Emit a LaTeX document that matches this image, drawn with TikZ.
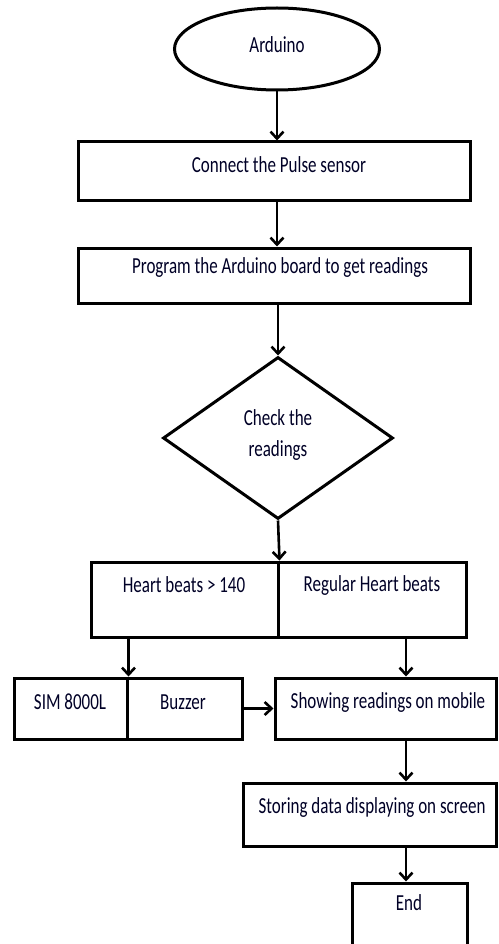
\documentclass[tikz,border=0pt]{standalone}
\usepackage{fontspec}
\setmainfont{Carlito}
\usepackage{graphicx}
\usetikzlibrary{shapes.geometric,arrows.meta}
\newcommand{\tx}[1]{\scalebox{1}[1.35]{#1}}
\tikzset{
  box/.style={draw, line width=3pt, rectangle, inner sep=0pt},
  lbl/.style={inner sep=0pt, font=\fontsize{17}{20}\selectfont, text=black!85!blue},
  arr/.style={line width=2.6pt, -{Straight Barb[length=7pt,width=13pt,line width=2.6pt]}}
}
\begin{document}
\begin{tikzpicture}[x=1pt,y=-1pt]
\useasboundingbox (0,0) rectangle (498,944);
% shapes
\node[draw, line width=3pt, ellipse, minimum width=205pt, minimum height=82pt, inner sep=0pt] (start) at (277,49) {};
\node[box, minimum width=392pt, minimum height=58pt] (b1) at (274,171) {};
\node[box, minimum width=392pt, minimum height=55pt] (b2) at (274,275.5) {};
\node[draw, line width=3pt, diamond, minimum width=230pt, minimum height=162pt, inner sep=0pt] (dec) at (278,438) {};
\node[box, minimum width=187pt, minimum height=75pt] (hb) at (184.5,599.5) {};
\node[box, minimum width=188pt, minimum height=75pt] (reg) at (372,599.5) {};
\node[box, minimum width=113pt, minimum height=61pt] (sim) at (70.5,708.5) {};
\node[box, minimum width=115pt, minimum height=61pt] (buz) at (184.5,708.5) {};
\node[box, minimum width=221pt, minimum height=61pt] (show) at (385.5,708.5) {};
\node[box, minimum width=253pt, minimum height=63pt] (store) at (369.5,814.5) {};
\node[box, minimum width=115pt, minimum height=64pt] (end) at (409.5,915) {};
\coordinate (rx) at (406,0);
% texts
\node[lbl] (t0) at (277,45) {\tx{Arduino}};
\node[lbl] (t1) at (279,165) {\tx{Connect the Pulse sensor}};
\node[lbl] (t2) at (280,268) {\tx{Program the Arduino board to get readings}};
\node[lbl] (t3a) at (278,418) {\tx{Check the}};
\node[lbl] (t3b) at (278,450) {\tx{readings}};
\node[lbl] (t4) at (184,585) {\tx{Heart beats > 140}};
\node[lbl] (t5) at (372,585) {\tx{Regular Heart beats}};
\node[lbl] (t6) at (70,702) {\tx{SIM 8000L}};
\node[lbl] (t7) at (183,702) {\tx{Buzzer}};
\node[lbl] (t8) at (388,702) {\tx{Showing readings on mobile}};
\node[lbl] (t9) at (372,807) {\tx{Storing data displaying on screen}};
\node[lbl] (t10) at (409,903) {\tx{End}};
% connectors
\draw[arr] (start.south) -- (start.south |- b1.north);
\draw[arr] (b1.south -| start.south) -- (start.south |- b2.north);
\draw[arr] (b2.south -| dec.north) -- (dec.north);
\draw[arr] (dec.south) -- (hb.north east);
\draw[arr] (hb.south -| sim.east) -- (sim.north east);
\draw[arr] (reg.south -| rx) -- (show.north -| rx);
\draw[arr] (buz.east) -- (show.west |- buz.east);
\draw[arr] (show.south -| rx) -- (store.north -| rx);
\draw[arr] (store.south -| rx) -- (end.north -| rx);
\end{tikzpicture}
\end{document}
